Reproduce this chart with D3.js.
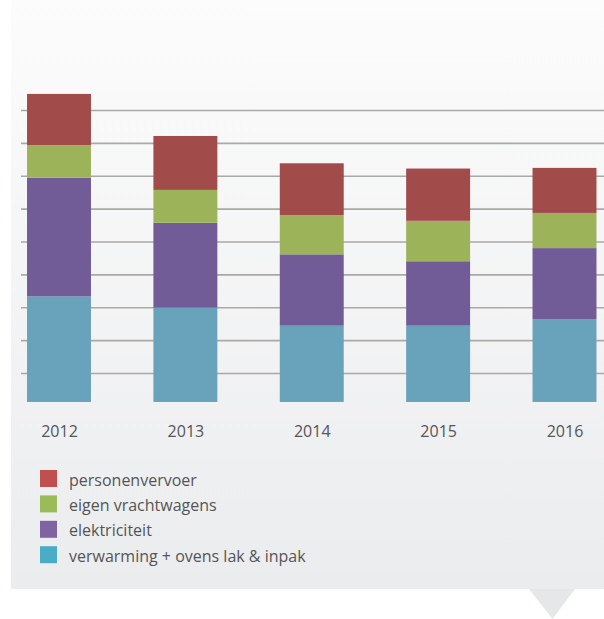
<!DOCTYPE html>
<html lang="nl">
<head>
<meta charset="utf-8">
<title>Stacked bars</title>
<script src="https://cdn.jsdelivr.net/npm/d3@7"></script>
<style>
  body { margin: 0; background: #fff; }
  svg { display: block; font-family: "Open Sans", sans-serif; }
</style>
</head>
<body>
<div id="chart"></div>
<script>
// data (arbitrary units, one grid step = 100)
var years = ["2012", "2013", "2014", "2015", "2016"];
var verwarming = [333, 299, 244, 244, 264];
var elektriciteit = [361, 258, 217, 196, 216];
var vrachtwagens = [99, 100, 119, 123, 107];
var personenvervoer = [156, 164, 158, 159, 137];
var gridTicks = [100, 200, 300, 400, 500, 600, 700, 800, 900];

var keys = ["verwarming", "elektriciteit", "vrachtwagens", "personenvervoer"];
var labels = {
  personenvervoer: "personenvervoer",
  vrachtwagens: "eigen vrachtwagens",
  elektriciteit: "elektriciteit",
  verwarming: "verwarming + ovens lak & inpak"
};
var barColors = { verwarming: "#69a2bb", elektriciteit: "#715c98", vrachtwagens: "#9db35a", personenvervoer: "#a24b4b" };
var legendColors = { verwarming: "#4bacc6", elektriciteit: "#8064a2", vrachtwagens: "#9bbb59", personenvervoer: "#c0504d" };

var W = 604, H = 619;
var rows = years.map(function(y, i) {
  return { year: y, verwarming: verwarming[i], elektriciteit: elektriciteit[i],
           vrachtwagens: vrachtwagens[i], personenvervoer: personenvervoer[i] };
});

var svg = d3.select("#chart").append("svg").attr("width", W).attr("height", H);

// panel background with soft gradient
var grad = svg.append("defs").append("linearGradient")
  .attr("id", "bg").attr("x1", 0).attr("y1", 0).attr("x2", 0).attr("y2", 1);
grad.append("stop").attr("offset", "0%").attr("stop-color", "#fcfcfc");
grad.append("stop").attr("offset", "100%").attr("stop-color", "#ebecee");

svg.append("rect").attr("x", 11).attr("y", 0).attr("width", W - 11).attr("height", 589)
  .attr("fill", "url(#bg)");
// little pointer under the panel
svg.append("path").attr("d", "M529,589L575,589L552.5,619Z").attr("fill", "#e6e7e9");

var x = d3.scalePoint().domain(years).range([59, 564.5]);
var barW = x.step() * 0.506;
var y = d3.scaleLinear().domain([0, 1000]).range([405.9, 77.15]);
var floor = 12; // bars start a hair above zero

// gridlines
var grid = svg.append("g").attr("transform", "translate(21,0)")
  .call(d3.axisLeft(y).tickValues(gridTicks).tickSize(-(W - 21)).tickFormat(""));
grid.select(".domain").remove();
grid.selectAll("line").attr("stroke", "#a9a9a9").attr("stroke-width", 1.6);

// stacked bars
var series = d3.stack().keys(keys)(rows);
svg.append("g").selectAll("g")
  .data(series)
  .enter().append("g")
  .attr("fill", function(s) { return barColors[s.key]; })
  .selectAll("rect")
  .data(function(s) { return s; })
  .enter().append("rect")
  .attr("x", function(d) { return x(d.data.year) - barW / 2; })
  .attr("width", barW)
  .attr("y", function(d) { return y(d[1]); })
  .attr("height", function(d) { return y(Math.max(d[0], floor)) - y(d[1]); });

// year labels
var xAxis = svg.append("g").attr("transform", "translate(0," + y(floor) + ")")
  .call(d3.axisBottom(x).tickSize(0).tickPadding(24));
xAxis.select(".domain").remove();
xAxis.selectAll("text").attr("font-size", 16).attr("font-family", "Open Sans, sans-serif").attr("fill", "#555");

// legend, top series first
var legend = svg.append("g").selectAll("g")
  .data(keys.slice().reverse())
  .enter().append("g")
  .attr("transform", function(d, i) { return "translate(40," + (470 + i * 25.4) + ")"; });
legend.append("rect").attr("width", 17).attr("height", 17)
  .attr("fill", function(d) { return legendColors[d]; });
legend.append("text").attr("x", 29).attr("y", 15.5)
  .attr("font-size", 16).attr("fill", "#555")
  .text(function(d) { return labels[d]; });
</script>
</body>
</html>
